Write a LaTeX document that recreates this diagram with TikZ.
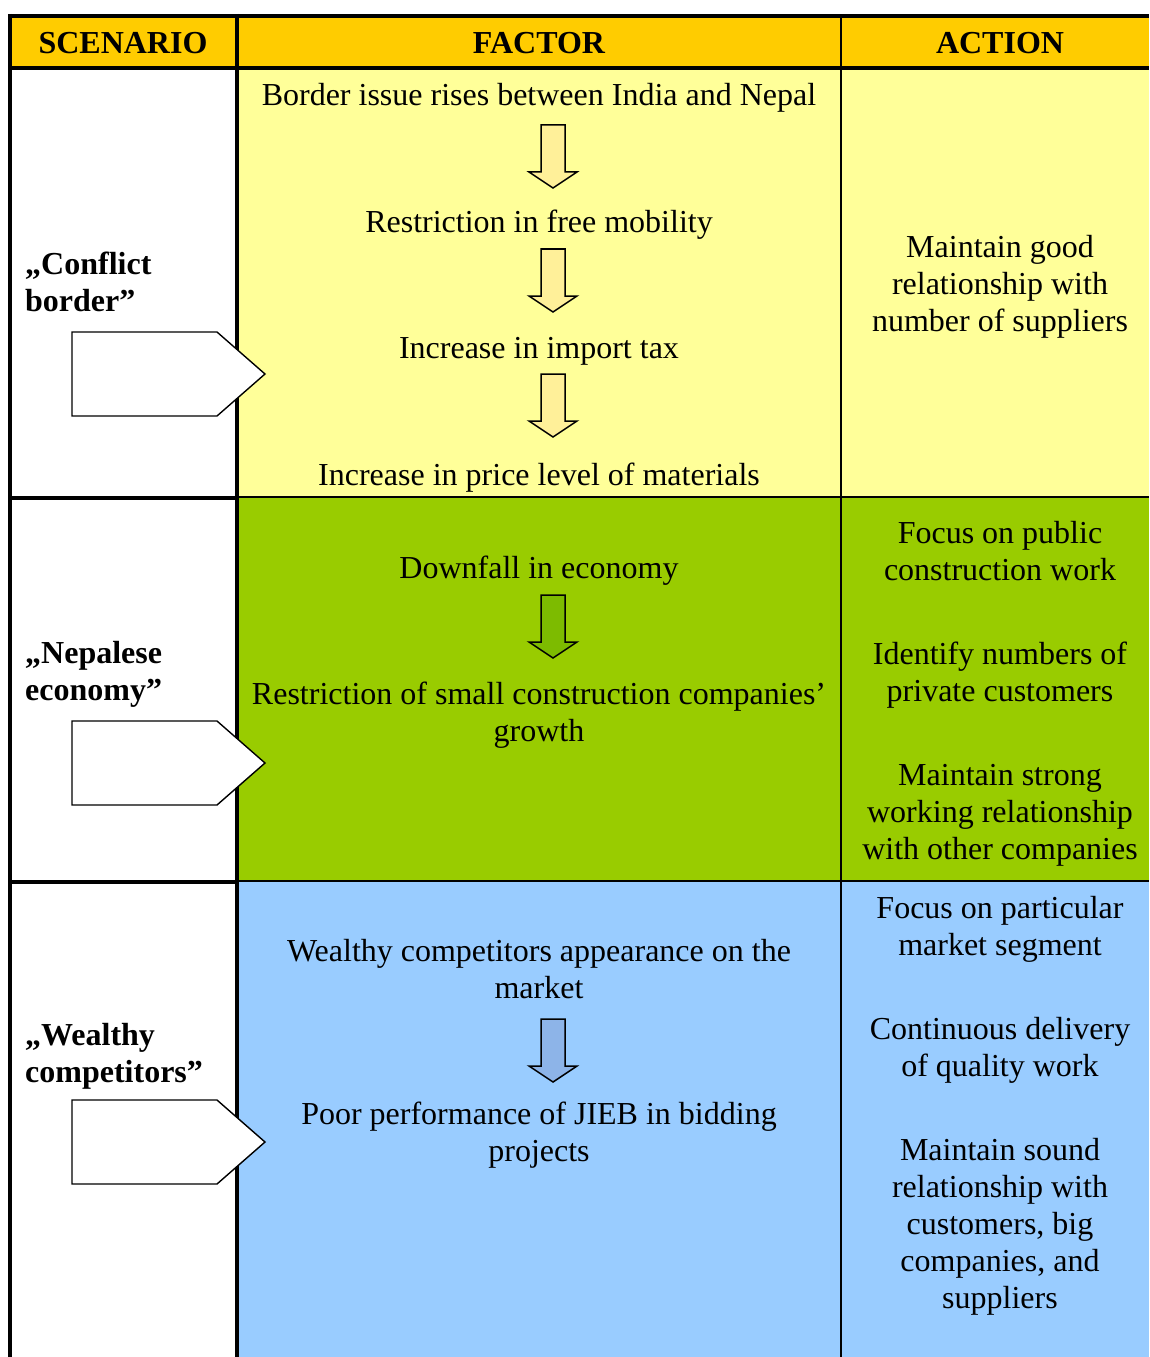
\documentclass[tikz,border=0pt]{standalone}
\usepackage{fontspec}
\setmainfont{Liberation Serif}
\definecolor{hdr}{HTML}{FFCC00}
\definecolor{rowA}{HTML}{FFFF99}
\definecolor{rowB}{HTML}{99CC00}
\definecolor{rowC}{HTML}{99CCFF}
\definecolor{arrA}{HTML}{FFF099}
\definecolor{arrB}{HTML}{7DBB00}
\definecolor{arrC}{HTML}{8DB4E8}
\tikzset{
  txt/.style={inner sep=0pt, align=center, font=\fontsize{32bp}{37bp}\selectfont,
    execute at begin node=\strut, execute at end node=\strut},
  hdrtxt/.style={txt, font=\fontsize{32bp}{37bp}\selectfont\bfseries},
  scen/.style={inner sep=0pt, anchor=west, align=left, font=\fontsize{32bp}{37bp}\selectfont\bfseries,
    execute at begin node=\strut, execute at end node=\strut},
  thick rule/.style={line width=4bp},
  mid rule/.style={line width=3.5bp},
  thin rule/.style={line width=1.5bp},
  pentagon/.style={draw=black, fill=white, line width=1.4bp, line join=miter},
  pics/dnarrow/.style={code={
    \draw[line width=1.5bp, line join=miter, fill=#1]
      (-12,0) -- (12,0) -- (12,47) -- (24,47) -- (0,63) -- (-24,47) -- (-12,47) -- cycle;}}
}
\begin{document}
\begin{tikzpicture}[x=1bp,y=-1bp]
\useasboundingbox (0,0) rectangle (1149,1357);
\fill[white] (0,0) rectangle (1149,1357);
% backgrounds
\fill[hdr] (10,16) rectangle (1149,68);
\fill[rowA] (237,68) rectangle (1149,498);
\fill[rowB] (237,498) rectangle (1149,881);
\fill[rowC] (237,881) rectangle (1149,1357);
% thin rules in coloured columns
\draw[line width=1.3bp] (237,497) -- (1149,497);
\draw[line width=1.7bp] (237,881) -- (1149,881);
\draw[line width=2.6bp] (841,16) -- (841,1357);
% thick rules
\draw[thick rule] (8,16) -- (1149,16);
\draw[thick rule] (8,68) -- (1149,68);
\draw[thick rule] (10,14) -- (10,1357);
\draw[thick rule] (237,14) -- (237,1357);
\draw[mid rule] (10,498) -- (237,498);
\draw[mid rule] (10,882) -- (237,882);
% header
\node[hdrtxt] (hS) at (123,46) {SCENARIO};
\node[hdrtxt] (hF) at (539,46) {FACTOR};
\node[hdrtxt] (hA) at (1000,46) {ACTION};
% scenario labels
\node[scen] (s1) at (25,287) {„Conflict\\border”};
\node[scen] (s2) at (25,676) {„Nepalese\\economy”};
\node[scen] (s3) at (25,1058) {„Wealthy\\competitors”};
% pentagons
\draw[pentagon] (72,332) -- (217,332) -- (265,374) -- (217,416) -- (72,416) -- cycle;
\draw[pentagon] (72,721) -- (217,721) -- (265,763) -- (217,805) -- (72,805) -- cycle;
\draw[pentagon] (72,1100) -- (217,1100) -- (265,1142) -- (217,1184) -- (72,1184) -- cycle;
% factor texts
\node[txt] (f1) at (539,98) {Border issue rises between India and Nepal};
\node[txt] (f2) at (539,225) {Restriction in free mobility};
\node[txt] (f3) at (539,351) {Increase in import tax};
\node[txt] (f4) at (539,478) {Increase in price level of materials};
\node[txt] (f5) at (539,571) {Downfall in economy};
\node[txt] (f6) at (539,717) {Restriction of small construction companies’\\growth};
\node[txt] (f7) at (539,974) {Wealthy competitors appearance on the\\market};
\node[txt] (f8) at (539,1137) {Poor performance of JIEB in bidding\\projects};
% down arrows
\pic at (553,125) {dnarrow=arrA};
\pic at (553,249) {dnarrow=arrA};
\pic at (553,374) {dnarrow=arrA};
\pic at (553,595) {dnarrow=arrB};
\pic at (553,1019) {dnarrow=arrC};
% action texts
\node[txt] (a1) at (1000,289) {Maintain good\\relationship with\\number of suppliers};
\node[txt] (a2) at (1000,556) {Focus on public\\construction work};
\node[txt] (a3) at (1000,677) {Identify numbers of\\private customers};
\node[txt] (a4) at (1000,817) {Maintain strong\\working relationship\\with other companies};
\node[txt] (a5) at (1000,931) {Focus on particular\\market segment};
\node[txt] (a6) at (1000,1052) {Continuous delivery\\of quality work};
\node[txt] (a7) at (1000,1229) {Maintain sound\\relationship with\\customers, big\\companies, and\\suppliers};
\end{tikzpicture}
\end{document}
